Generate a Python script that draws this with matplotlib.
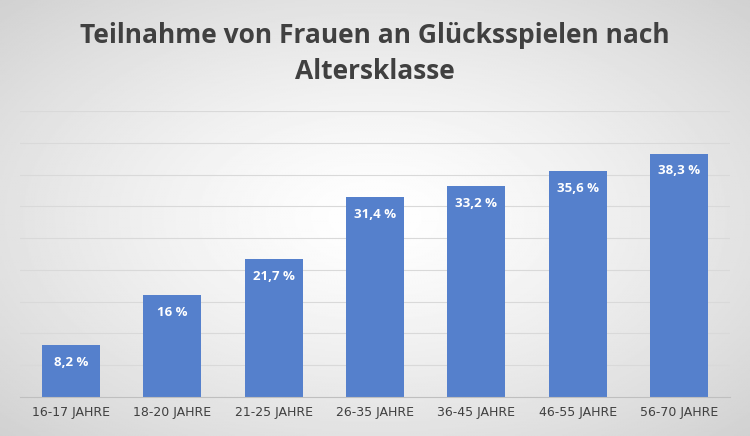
import numpy as np
import matplotlib
matplotlib.use("Agg")
import matplotlib.pyplot as plt

categories = ["16-17 JAHRE", "18-20 JAHRE", "21-25 JAHRE", "26-35 JAHRE",
              "36-45 JAHRE", "46-55 JAHRE", "56-70 JAHRE"]
values = [8.2, 16, 21.7, 31.4, 33.2, 35.6, 38.3]
labels = ["8,2 %", "16 %", "21,7 %", "31,4 %", "33,2 %", "35,6 %", "38,3 %"]

fig = plt.figure(figsize=(7.5, 4.36), dpi=100)

# radial background gradient
bg = fig.add_axes([0, 0, 1, 1], zorder=-10)
yy, xx = np.mgrid[-1:1:300j, -1:1:500j]
r = np.sqrt(xx**2 + yy**2) / np.sqrt(2)
bg.imshow(1 - 0.18 * r**1.3, cmap="gray", vmin=0, vmax=1, aspect="auto",
          extent=[0, 1, 0, 1])
bg.axis("off")

ax = fig.add_axes([0.027, 0.09, 0.946, 0.655])
ax.patch.set_alpha(0)
x = np.arange(len(categories))
bars = ax.bar(x, values, width=0.57, color="#5580CC", zorder=2)
for b, lab in zip(bars, labels):
    ax.text(b.get_x() + b.get_width() / 2, b.get_height() - 1.7, lab,
            ha="center", va="top", color="white", fontsize=9.5,
            fontweight="bold", family="Open Sans")
ax.set_ylim(0, 45)
ax.set_yticks(np.arange(5, 46, 5))
ax.yaxis.grid(True, color="#D9D9D9", linewidth=0.8, zorder=0)
ax.tick_params(axis="y", left=False, labelleft=False)
ax.tick_params(axis="x", length=0, labelsize=9, labelcolor="#404040", pad=7)
ax.set_xticks(x)
ax.set_xticklabels(categories)
ax.set_xlim(-0.5, len(categories) - 0.5)
for s in ["top", "right", "left"]:
    ax.spines[s].set_visible(False)
ax.spines["bottom"].set_color("#BFBFBF")

fig.text(0.5, 0.95, "Teilnahme von Frauen an Glücksspielen nach\nAltersklasse",
         ha="center", va="top", fontsize=19, fontweight="bold",
         color="#404040", family="Open Sans", linespacing=1.45)

fig.savefig("out.png", dpi=100)
